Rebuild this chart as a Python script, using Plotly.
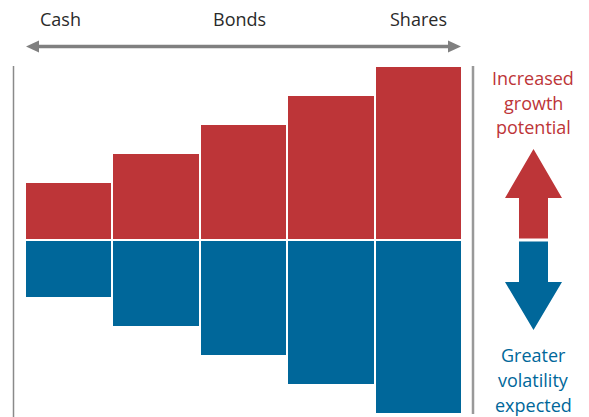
import plotly.graph_objects as go

# ---- data ----
bar_ids = ["b1", "b2", "b3", "b4", "b5"]
growth_potential = [2, 3, 4, 5, 6]
volatility = [-2, -3, -4, -5, -6]
scale_labels = ["Cash", "Bonds", "Shares"]

RED = "#BD3538"
BLUE = "#00679A"
GREY = "#808080"
FONT = "Open Sans"
FS = 18

W, H = 589, 417
ML, MR, MT, MB = 25, 127, 66, 3
PW, PH = W - ML - MR, H - MT - MB


def px(x):
    return (x - ML) / PW


def py(y):
    return (H - MB - y) / PH


fig = go.Figure()
fig.add_trace(go.Bar(x=bar_ids, y=growth_potential, marker=dict(color=RED, line=dict(color="white", width=2)),
                     hoverinfo="skip"))
fig.add_trace(go.Bar(x=bar_ids, y=volatility, marker=dict(color=BLUE, line=dict(color="white", width=2)),
                     hoverinfo="skip"))

shapes = []
# vertical lines
shapes.append(dict(type="line", xref="paper", yref="paper", x0=px(13.5), x1=px(13.5), y0=py(66), y1=py(417),
                   line=dict(color="#8a8a8a", width=1.5)))
shapes.append(dict(type="line", xref="paper", yref="paper", x0=px(473), x1=px(473), y0=py(66), y1=py(414),
                   line=dict(color="#999999", width=2.5)))
# top double arrow line
shapes.append(dict(type="line", xref="paper", yref="paper", x0=px(36), x1=px(450), y0=py(46.5), y1=py(46.5),
                   line=dict(color=GREY, width=3.5)))


def path(points):
    s = "M " + " L ".join(f"{px(x):.5f},{py(y):.5f}" for x, y in points) + " Z"
    return s


shapes.append(dict(type="path", xref="paper", yref="paper", path=path([(26, 46.5), (39, 40.5), (39, 52.5)]),
                   fillcolor=GREY, line=dict(width=0)))
shapes.append(dict(type="path", xref="paper", yref="paper", path=path([(461, 46.5), (448, 40.5), (448, 52.5)]),
                   fillcolor=GREY, line=dict(width=0)))
# right side arrows
shapes.append(dict(type="path", xref="paper", yref="paper",
                   path=path([(519, 238.5), (519, 198), (505, 198), (533.5, 149), (562, 198), (548, 198), (548, 238.5)]),
                   fillcolor=RED, line=dict(width=0)))
shapes.append(dict(type="path", xref="paper", yref="paper",
                   path=path([(519, 241.5), (519, 282), (505, 282), (533.5, 330), (562, 282), (548, 282), (548, 241.5)]),
                   fillcolor=BLUE, line=dict(width=0)))

annotations = []
for label, xc in zip(scale_labels, [60, 239, 418]):
    annotations.append(dict(text=label, xref="paper", yref="paper", x=px(xc), y=py(19), showarrow=False,
                            xanchor="center", yanchor="middle", font=dict(family=FONT, size=FS, color="#2a2a2a")))
for i, t in enumerate(["Increased", "growth", "potential"]):
    annotations.append(dict(text=t, xref="paper", yref="paper", x=px(533), y=py(78 + i * 24.5), showarrow=False,
                            xanchor="center", yanchor="middle", font=dict(family=FONT, size=FS, color=RED)))
for i, t in enumerate(["Greater", "volatility", "expected"]):
    annotations.append(dict(text=t, xref="paper", yref="paper", x=px(533), y=py(355 + i * 25), showarrow=False,
                            xanchor="center", yanchor="middle", font=dict(family=FONT, size=FS, color=BLUE)))

fig.update_layout(
    width=W, height=H,
    margin=dict(l=ML, r=MR, t=MT, b=MB),
    barmode="relative", bargap=0,
    paper_bgcolor="white", plot_bgcolor="white",
    showlegend=False,
    xaxis=dict(visible=False, range=[-0.5, 4.5], fixedrange=True),
    yaxis=dict(visible=False, range=[-6, 6], fixedrange=True),
    shapes=shapes, annotations=annotations,
)

fig.write_html("out.html", config={"displayModeBar": False},
               post_script="document.body.style.margin='0';document.body.style.overflow='hidden';")
